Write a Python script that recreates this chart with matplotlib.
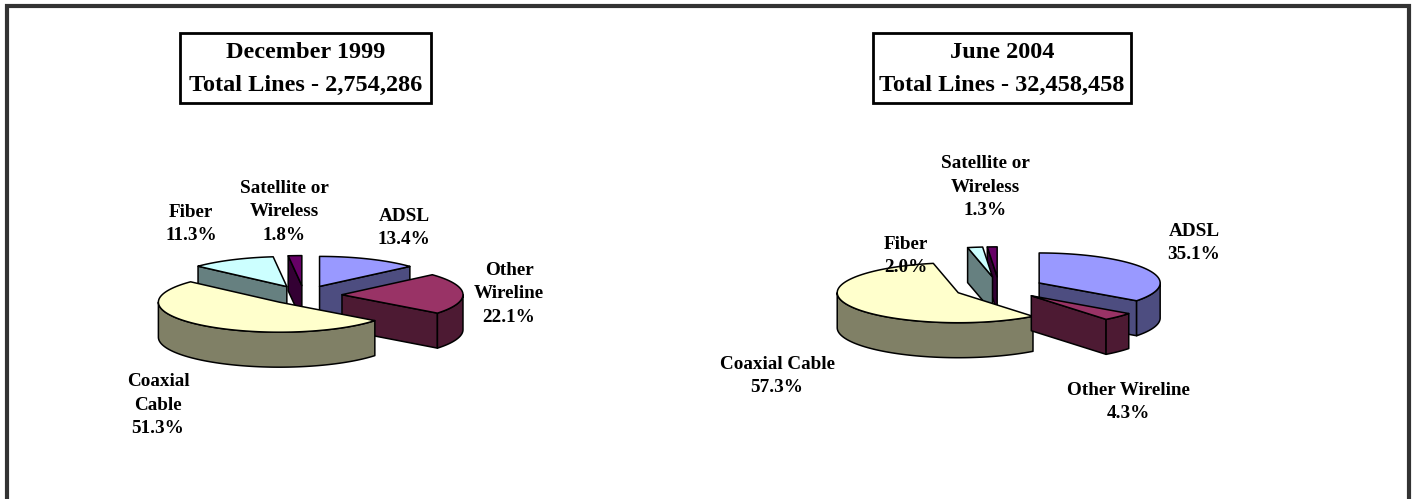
import numpy as np
import matplotlib
matplotlib.use("Agg")
import matplotlib.pyplot as plt
from matplotlib.patches import Polygon, Rectangle

# ---------------- data ----------------
categories = ["ADSL", "Other Wireline", "Coaxial Cable", "Fiber", "Satellite or Wireless"]
values_1999 = [13.4, 22.1, 51.3, 11.3, 1.8]
values_2004 = [35.1, 4.3, 57.3, 2.0, 1.3]
title_1999 = "December 1999\nTotal Lines - 2,754,286"
title_2004 = "June 2004\nTotal Lines - 32,458,458"
labels_1999 = ["ADSL\n13.4%", "Other\nWireline\n22.1%", "Coaxial\nCable\n51.3%",
               "Fiber\n11.3%", "Satellite or\nWireless\n1.8%"]
labels_2004 = ["ADSL\n35.1%", "Other Wireline\n4.3%", "Coaxial Cable\n57.3%",
               "Fiber\n2.0%", "Satellite or\nWireless\n1.3%"]

# ---------------- style ----------------
top_colors = ["#9999FF", "#993366", "#FFFFCC", "#CCFFFF", "#660066"]
side_colors = ["#4D4D80", "#4D1A33", "#808066", "#668080", "#330033"]

W, H = 1416, 499
fig = plt.figure(figsize=(W / 100, H / 100), dpi=100)
ax = fig.add_axes([0, 0, 1, 1])
ax.set_xlim(0, W)
ax.set_ylim(H, 0)
ax.axis("off")

FONT = "Liberation Serif"
EDGE_LW = 1.1


def draw_pie3d(ax, values, cx0, cy0, rx, ry, h, explode):
    total = float(sum(values))
    start = 0.0
    slices = []
    for i, v in enumerate(values):
        a0 = start
        a1 = start + v / total * 360.0
        start = a1
        mid = np.radians((a0 + a1) / 2)
        cx = cx0 + explode * np.sin(mid)
        cy = cy0 - explode * np.cos(mid) * ry / rx
        slices.append((i, a0, a1, cx, cy, np.cos(mid)))

    def pt(cx, cy, th, dz=0.0):
        t = np.radians(th)
        return (cx + rx * np.sin(t), cy - ry * np.cos(t) + dz)

    def arc(cx, cy, t0, t1, dz=0.0):
        n = max(2, int(abs(t1 - t0)) + 2)
        ts = np.linspace(t0, t1, n)
        return [pt(cx, cy, t, dz) for t in ts]

    z = 2
    for (i, a0, a1, cx, cy, c) in sorted(slices, key=lambda s: -s[5]):
        faces = []
        # start radial face
        if np.sin(np.radians(a0)) < -1e-6:
            p = pt(cx, cy, a0)
            faces.append([(cx, cy), p, (p[0], p[1] + h), (cx, cy + h)])
        # end radial face
        if np.sin(np.radians(a1)) > 1e-6:
            p = pt(cx, cy, a1)
            faces.append([(cx, cy), p, (p[0], p[1] + h), (cx, cy + h)])
        # outer curved face (front half)
        s0, s1 = max(a0, 90.0), min(a1, 270.0)
        if s1 > s0:
            topa = arc(cx, cy, s0, s1)
            bota = arc(cx, cy, s0, s1, h)[::-1]
            faces.append(topa + bota)
        for f in faces:
            ax.add_patch(Polygon(f, closed=True, facecolor=side_colors[i],
                                 edgecolor="black", lw=EDGE_LW,
                                 joinstyle="round", zorder=z))
            z += 1
        topf = [(cx, cy)] + arc(cx, cy, a0, a1)
        ax.add_patch(Polygon(topf, closed=True, facecolor=top_colors[i],
                             edgecolor="black", lw=EDGE_LW,
                             joinstyle="round", zorder=z))
        z += 1


draw_pie3d(ax, values_1999, cx0=304, cy0=295, rx=121, ry=30, h=35, explode=38)
draw_pie3d(ax, values_2004, cx0=999, cy0=288, rx=121, ry=30, h=35, explode=45)

# slice labels (layout positions)
label_pos_1999 = [(404, 228), (509, 294), (158, 405), (191, 224), (284, 212)]
label_pos_2004 = [(1194, 243), (1128, 402), (777, 376), (906, 256), (985, 187)]
for labs, poss in ((labels_1999, label_pos_1999), (labels_2004, label_pos_2004)):
    for lab, (x, y) in zip(labs, poss):
        ax.text(x, y, lab, ha="center", va="center", fontsize=13.8,
                fontweight="bold", family=FONT, linespacing=1.5, zorder=50)

# title boxes
for (x0, y0, x1, y1), t in (((180, 33, 431, 103), title_1999),
                            ((873, 33, 1131, 103), title_2004)):
    ax.add_patch(Rectangle((x0, y0), x1 - x0, y1 - y0, facecolor="white",
                           edgecolor="black", lw=2.0, zorder=40))
    ax.text((x0 + x1) / 2, (y0 + y1) / 2 + 1, t, ha="center", va="center",
            fontsize=17.5, fontweight="bold", family=FONT, linespacing=1.7,
            zorder=41)

# outer frame (left, top, right)
ax.plot([7, 7, 1409, 1409], [H + 5, 6, 6, H + 5], color="#333333", lw=3.0,
        solid_joinstyle="miter", clip_on=False, zorder=60)

fig.savefig("out.png", dpi=100)
